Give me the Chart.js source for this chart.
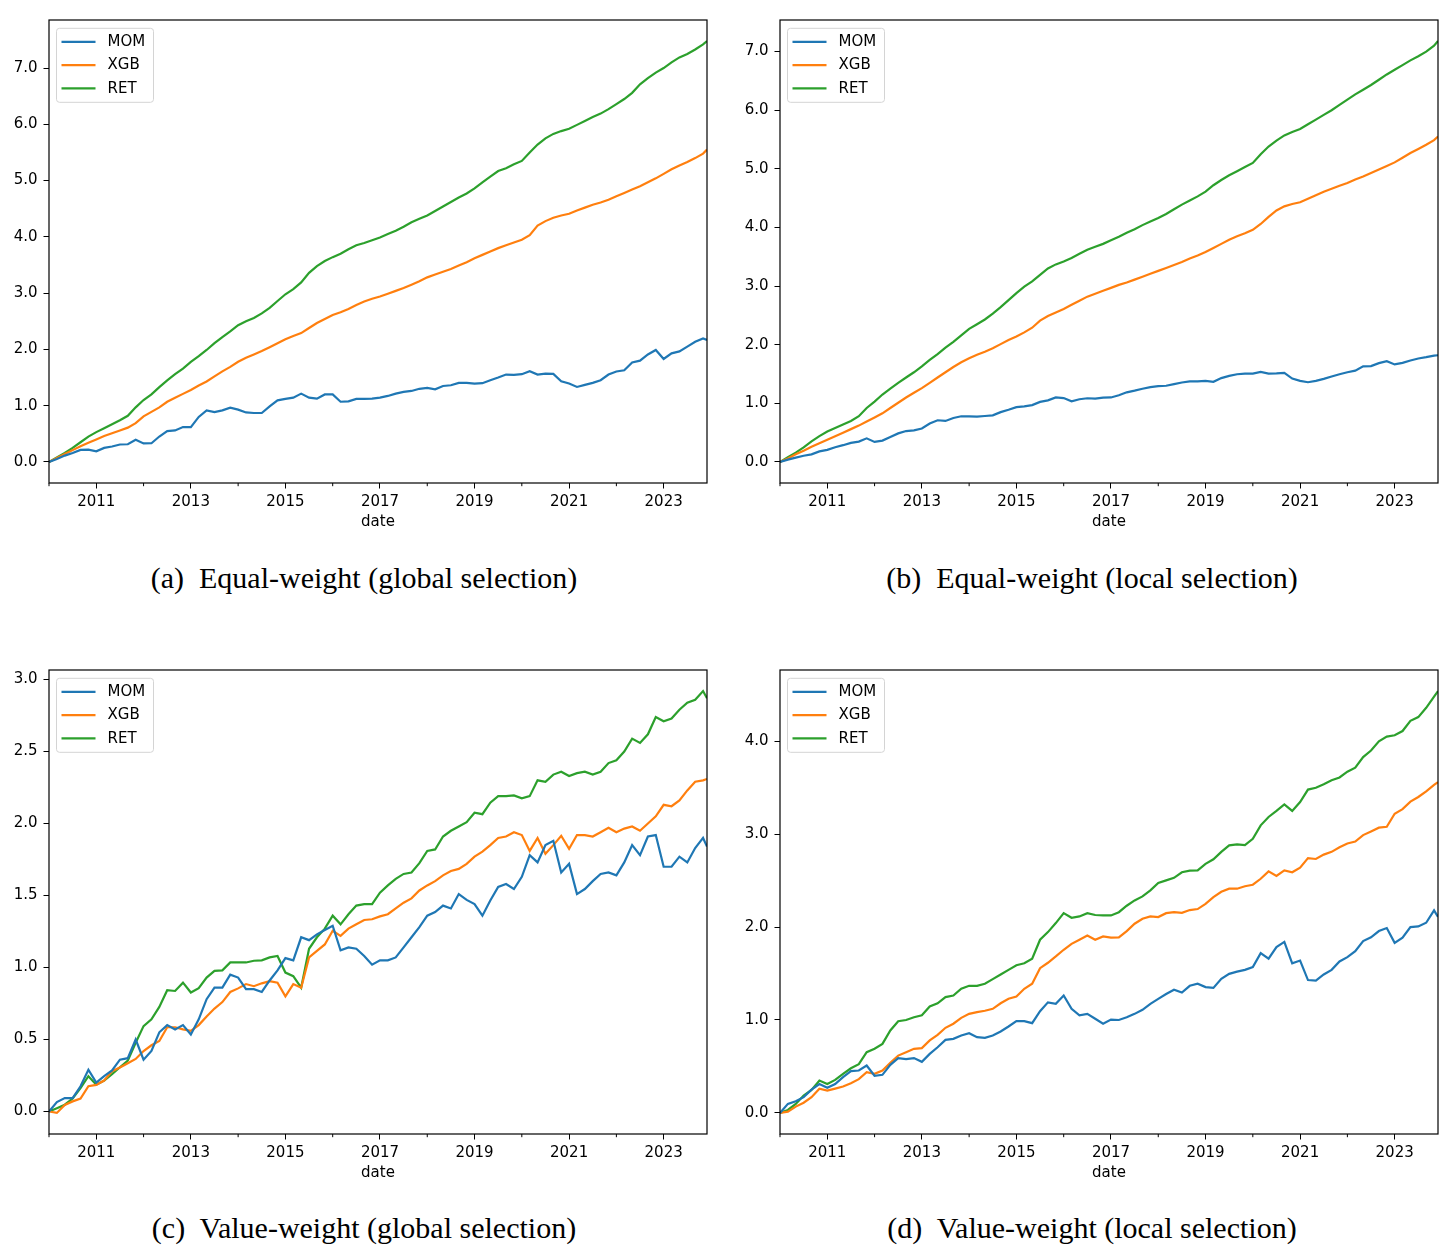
<!DOCTYPE html>
<html>
<head>
<meta charset="utf-8">
<title>Cumulative returns</title>
<script src="https://cdn.jsdelivr.net/npm/chart.js@4.4.1/dist/chart.umd.min.js"></script>
<style>
    body { margin: 0; background: #fff; width: 1456px; height: 1259px; position: relative; overflow: hidden; }
    .panel { position: absolute; width: 728px; height: 540px; }
    .caption { position: absolute; width: 728px; text-align: center; font-family: 'Liberation Serif', serif; font-size: 30px; line-height: 30px; color: #000; white-space: pre; }
</style>
</head>
<body>
<div class="panel" style="left:0;top:0"><canvas id="chartA" width="728" height="540"></canvas></div>
<div class="panel" style="left:728px;top:0"><canvas id="chartB" width="728" height="540"></canvas></div>
<div class="panel" style="left:0;top:650px"><canvas id="chartC" width="728" height="540"></canvas></div>
<div class="panel" style="left:728px;top:650px"><canvas id="chartD" width="728" height="540"></canvas></div>
<div class="caption" id="capA" style="left:0;top:563px"></div>
<div class="caption" id="capB" style="left:728px;top:563px"></div>
<div class="caption" id="capC" style="left:0;top:1213px"></div>
<div class="caption" id="capD" style="left:728px;top:1213px"></div>
<script>
// months sampled every second month, last point is Dec 2023
const months = [
    '2010-01', '2010-03', '2010-05', '2010-07', '2010-09', '2010-11',
    '2011-01', '2011-03', '2011-05', '2011-07', '2011-09', '2011-11',
    '2012-01', '2012-03', '2012-05', '2012-07', '2012-09', '2012-11',
    '2013-01', '2013-03', '2013-05', '2013-07', '2013-09', '2013-11',
    '2014-01', '2014-03', '2014-05', '2014-07', '2014-09', '2014-11',
    '2015-01', '2015-03', '2015-05', '2015-07', '2015-09', '2015-11',
    '2016-01', '2016-03', '2016-05', '2016-07', '2016-09', '2016-11',
    '2017-01', '2017-03', '2017-05', '2017-07', '2017-09', '2017-11',
    '2018-01', '2018-03', '2018-05', '2018-07', '2018-09', '2018-11',
    '2019-01', '2019-03', '2019-05', '2019-07', '2019-09', '2019-11',
    '2020-01', '2020-03', '2020-05', '2020-07', '2020-09', '2020-11',
    '2021-01', '2021-03', '2021-05', '2021-07', '2021-09', '2021-11',
    '2022-01', '2022-03', '2022-05', '2022-07', '2022-09', '2022-11',
    '2023-01', '2023-03', '2023-05', '2023-07', '2023-09', '2023-11',
    '2023-12'
];

const seriesNames = ['MOM', 'XGB', 'RET'];
const seriesColors = ['#1f77b4', '#ff7f0e', '#2ca02c'];

const xMajorYears = [2011, 2013, 2015, 2017, 2019, 2021, 2023];
const xMinorYears = [2010, 2012, 2014, 2016, 2018, 2020, 2022];
const yTicksA = [0, 1, 2, 3, 4, 5, 6, 7];
const yTicksB = [0, 1, 2, 3, 4, 5, 6, 7];
const yTicksC = [0, 0.5, 1, 1.5, 2, 2.5, 3];
const yTicksD = [0, 1, 2, 3, 4];

const captions = [
    '(a)  Equal-weight (global selection)',
    '(b)  Equal-weight (local selection)',
    '(c)  Value-weight (global selection)',
    '(d)  Value-weight (local selection)'
];

// (a) equal-weight, global selection
const momEqGlobal = [
    0, 0.054, 0.113, 0.16, 0.214, 0.22,
    0.19, 0.25, 0.274, 0.31, 0.315, 0.393,
    0.33, 0.333, 0.452, 0.548, 0.56, 0.62,
    0.62, 0.80, 0.917, 0.887, 0.917, 0.964,
    0.93, 0.88, 0.87, 0.87, 0.988, 1.095,
    1.12, 1.143, 1.214, 1.143, 1.125, 1.20,
    1.20, 1.07, 1.077, 1.12, 1.12, 1.125,
    1.143, 1.173, 1.214, 1.244, 1.262, 1.30,
    1.315, 1.29, 1.35, 1.363, 1.405, 1.405,
    1.393, 1.40, 1.452, 1.50, 1.553, 1.548,
    1.56, 1.613, 1.553, 1.57, 1.565, 1.435,
    1.393, 1.333, 1.37, 1.405, 1.452, 1.553,
    1.607, 1.63, 1.768, 1.80, 1.91, 1.99,
    1.83, 1.93, 1.964, 2.05, 2.137, 2.196,
    2.167
];
const xgbEqGlobal = [
    0, 0.07, 0.14, 0.21, 0.28, 0.34,
    0.40, 0.46, 0.51, 0.56, 0.61, 0.69,
    0.81, 0.89, 0.97, 1.07, 1.14, 1.21,
    1.28, 1.36, 1.43, 1.52, 1.61, 1.69,
    1.78, 1.85, 1.91, 1.97, 2.04, 2.11,
    2.18, 2.24, 2.29, 2.38, 2.47, 2.54,
    2.61, 2.66, 2.72, 2.79, 2.85, 2.90,
    2.94, 2.99, 3.04, 3.09, 3.15, 3.21,
    3.28, 3.33, 3.38, 3.43, 3.49, 3.55,
    3.62, 3.68, 3.74, 3.80, 3.85, 3.90,
    3.95, 4.03, 4.20, 4.28, 4.34, 4.38,
    4.41, 4.47, 4.52, 4.57, 4.61, 4.66,
    4.72, 4.78, 4.84, 4.90, 4.97, 5.04,
    5.12, 5.20, 5.27, 5.33, 5.40, 5.48,
    5.55
];
const retEqGlobal = [
    0, 0.08, 0.16, 0.25, 0.35, 0.45,
    0.53, 0.60, 0.67, 0.74, 0.82, 0.97,
    1.10, 1.20, 1.33, 1.45, 1.56, 1.66,
    1.78, 1.88, 1.99, 2.11, 2.22, 2.32,
    2.43, 2.50, 2.56, 2.64, 2.74, 2.86,
    2.98, 3.07, 3.19, 3.36, 3.48, 3.57,
    3.64, 3.70, 3.78, 3.85, 3.89, 3.94,
    3.99, 4.05, 4.11, 4.18, 4.26, 4.32,
    4.38, 4.46, 4.54, 4.62, 4.70, 4.77,
    4.86, 4.97, 5.07, 5.17, 5.22, 5.29,
    5.35, 5.50, 5.64, 5.75, 5.83, 5.88,
    5.92, 5.99, 6.06, 6.13, 6.19, 6.27,
    6.36, 6.45, 6.56, 6.71, 6.82, 6.92,
    7.00, 7.10, 7.19, 7.25, 7.33, 7.42,
    7.48
];

// (b) equal-weight, local selection
const momEqLocal = [
    0, 0.04, 0.073, 0.106, 0.129, 0.18,
    0.207, 0.252, 0.286, 0.325, 0.347, 0.403,
    0.342, 0.364, 0.426, 0.487, 0.527, 0.538,
    0.571, 0.655, 0.711, 0.70, 0.75, 0.779,
    0.779, 0.773, 0.784, 0.795, 0.85, 0.89,
    0.935, 0.947, 0.97, 1.025, 1.05, 1.10,
    1.09, 1.036, 1.07, 1.087, 1.081, 1.098,
    1.10, 1.137, 1.188, 1.216, 1.249, 1.277,
    1.294, 1.30, 1.328, 1.356, 1.373, 1.373,
    1.384, 1.367, 1.43, 1.468, 1.496, 1.507,
    1.507, 1.535, 1.507, 1.51, 1.518, 1.423,
    1.384, 1.36, 1.384, 1.417, 1.457, 1.496,
    1.53, 1.557, 1.63, 1.636, 1.686, 1.72,
    1.664, 1.69, 1.731, 1.765, 1.787, 1.815,
    1.82
];
const xgbEqLocal = [
    0, 0.06, 0.13, 0.19, 0.26, 0.32,
    0.38, 0.44, 0.50, 0.56, 0.62, 0.69,
    0.76, 0.83, 0.92, 1.01, 1.10, 1.18,
    1.26, 1.35, 1.44, 1.53, 1.62, 1.70,
    1.77, 1.83, 1.88, 1.94, 2.01, 2.08,
    2.14, 2.21, 2.29, 2.41, 2.49, 2.55,
    2.61, 2.68, 2.75, 2.82, 2.87, 2.92,
    2.97, 3.02, 3.06, 3.11, 3.16, 3.21,
    3.26, 3.31, 3.36, 3.41, 3.47, 3.52,
    3.58, 3.65, 3.72, 3.79, 3.85, 3.90,
    3.96, 4.06, 4.18, 4.29, 4.36, 4.40,
    4.43, 4.49, 4.55, 4.61, 4.66, 4.71,
    4.76, 4.82, 4.87, 4.93, 4.99, 5.05,
    5.11, 5.19, 5.27, 5.34, 5.41, 5.49,
    5.55
];
const retEqLocal = [
    0, 0.08, 0.16, 0.25, 0.35, 0.44,
    0.52, 0.58, 0.64, 0.70, 0.78, 0.92,
    1.03, 1.15, 1.25, 1.35, 1.44, 1.53,
    1.63, 1.74, 1.84, 1.95, 2.05, 2.16,
    2.27, 2.35, 2.43, 2.53, 2.64, 2.76,
    2.88, 2.99, 3.08, 3.19, 3.30, 3.37,
    3.42, 3.48, 3.55, 3.62, 3.67, 3.72,
    3.78, 3.84, 3.91, 3.97, 4.04, 4.10,
    4.16, 4.23, 4.31, 4.39, 4.46, 4.53,
    4.61, 4.72, 4.81, 4.89, 4.96, 5.03,
    5.10, 5.25, 5.38, 5.48, 5.57, 5.63,
    5.68, 5.76, 5.84, 5.92, 6.00, 6.09,
    6.18, 6.27, 6.35, 6.43, 6.52, 6.61,
    6.69, 6.77, 6.85, 6.92, 7.00, 7.10,
    7.18
];

// (c) value-weight, global selection
const momVwGlobal = [
    0, 0.065, 0.093, 0.093, 0.175, 0.29,
    0.20, 0.245, 0.285, 0.36, 0.37, 0.50,
    0.36, 0.42, 0.55, 0.60, 0.57, 0.60,
    0.535, 0.64, 0.78, 0.86, 0.86, 0.95,
    0.93, 0.85, 0.85, 0.83, 0.91, 0.98,
    1.065, 1.05, 1.21, 1.19, 1.23, 1.26,
    1.29, 1.12, 1.14, 1.13, 1.08, 1.02,
    1.05, 1.05, 1.07, 1.14, 1.21, 1.28,
    1.36, 1.385, 1.43, 1.41, 1.51, 1.47,
    1.44, 1.36, 1.465, 1.56, 1.58, 1.545,
    1.63, 1.78, 1.73, 1.85, 1.88, 1.66,
    1.72, 1.51, 1.545, 1.60, 1.65, 1.66,
    1.64, 1.73, 1.85, 1.78, 1.91, 1.92,
    1.70, 1.70, 1.77, 1.73, 1.83, 1.90,
    1.84
];
const xgbVwGlobal = [
    0, -0.01, 0.045, 0.07, 0.09, 0.175,
    0.185, 0.215, 0.28, 0.305, 0.335, 0.365,
    0.42, 0.46, 0.49, 0.585, 0.585, 0.57,
    0.56, 0.60, 0.66, 0.715, 0.76, 0.83,
    0.855, 0.885, 0.87, 0.89, 0.905, 0.895,
    0.80, 0.885, 0.86, 1.07, 1.115, 1.16,
    1.255, 1.22, 1.27, 1.30, 1.33, 1.335,
    1.355, 1.37, 1.41, 1.45, 1.48, 1.535,
    1.57, 1.60, 1.64, 1.67, 1.685, 1.72,
    1.77, 1.805, 1.85, 1.90, 1.91, 1.94,
    1.92, 1.81, 1.90, 1.79, 1.85, 1.915,
    1.825, 1.92, 1.92, 1.91, 1.94, 1.97,
    1.94, 1.965, 1.98, 1.95, 2.00, 2.05,
    2.13, 2.12, 2.16, 2.23, 2.29, 2.30,
    2.31
];
const retVwGlobal = [
    0, 0.023, 0.047, 0.09, 0.163, 0.245,
    0.186, 0.214, 0.26, 0.307, 0.353, 0.477,
    0.593, 0.64, 0.726, 0.842, 0.837, 0.895,
    0.826, 0.856, 0.93, 0.977, 0.98, 1.035,
    1.035, 1.035, 1.047, 1.05, 1.07, 1.08,
    0.965, 0.94, 0.86, 1.13, 1.21, 1.27,
    1.36, 1.30, 1.37, 1.43, 1.44, 1.44,
    1.52, 1.57, 1.616, 1.65, 1.66, 1.725,
    1.81, 1.82, 1.91, 1.95, 1.98, 2.01,
    2.075, 2.065, 2.145, 2.19, 2.19, 2.195,
    2.175, 2.19, 2.30, 2.29, 2.34, 2.36,
    2.33, 2.35, 2.36, 2.34, 2.36, 2.42,
    2.44, 2.50, 2.59, 2.56, 2.62, 2.74,
    2.71, 2.73, 2.79, 2.84, 2.86, 2.92,
    2.87
];

// (d) value-weight, local selection
const momVwLocal = [
    0, 0.097, 0.126, 0.17, 0.25, 0.31,
    0.27, 0.31, 0.385, 0.45, 0.456, 0.51,
    0.40, 0.41, 0.517, 0.59, 0.58, 0.59,
    0.55, 0.635, 0.707, 0.786, 0.797, 0.833,
    0.858, 0.815, 0.808, 0.833, 0.876, 0.93,
    0.987, 0.987, 0.966, 1.095, 1.19, 1.174,
    1.264, 1.12, 1.05, 1.066, 1.013, 0.96,
    1.005, 1.0, 1.03, 1.066, 1.11, 1.174,
    1.228, 1.28, 1.325, 1.296, 1.368, 1.39,
    1.354, 1.346, 1.443, 1.497, 1.52, 1.54,
    1.57, 1.72, 1.66, 1.785, 1.84, 1.61,
    1.64, 1.43, 1.425, 1.49, 1.54, 1.63,
    1.677, 1.74, 1.85, 1.89, 1.957, 1.99,
    1.83, 1.885, 2.0, 2.007, 2.047, 2.18,
    2.11
];
const xgbVwLocal = [
    0, 0.014, 0.068, 0.11, 0.169, 0.26,
    0.24, 0.262, 0.284, 0.32, 0.363, 0.438,
    0.42, 0.456, 0.54, 0.617, 0.653, 0.69,
    0.697, 0.78, 0.84, 0.916, 0.96, 1.023,
    1.066, 1.084, 1.10, 1.12, 1.18, 1.228,
    1.253, 1.336, 1.39, 1.558, 1.616, 1.684,
    1.756, 1.82, 1.864, 1.91, 1.864, 1.90,
    1.887, 1.89, 1.957, 2.036, 2.09, 2.115,
    2.108, 2.15, 2.16, 2.154, 2.183, 2.194,
    2.25, 2.323, 2.38, 2.413, 2.413, 2.44,
    2.456, 2.52, 2.60, 2.55, 2.61, 2.59,
    2.64, 2.743, 2.733, 2.78, 2.81, 2.86,
    2.90, 2.92, 2.99, 3.03, 3.07, 3.08,
    3.22, 3.27, 3.35, 3.40, 3.46, 3.53,
    3.56
];
const retVwLocal = [
    0, 0.032, 0.097, 0.187, 0.248, 0.348,
    0.312, 0.355, 0.42, 0.48, 0.524, 0.653,
    0.69, 0.743, 0.887, 0.987, 1.0, 1.03,
    1.05, 1.145, 1.18, 1.246, 1.264, 1.336,
    1.368, 1.368, 1.39, 1.44, 1.49, 1.54,
    1.59, 1.61, 1.66, 1.864, 1.946, 2.043,
    2.15, 2.10, 2.115, 2.15, 2.13, 2.125,
    2.125, 2.16, 2.23, 2.287, 2.33, 2.395,
    2.474, 2.503, 2.53, 2.59, 2.607, 2.61,
    2.68, 2.73, 2.81, 2.88, 2.89, 2.883,
    2.95, 3.095, 3.185, 3.25, 3.32, 3.25,
    3.346, 3.48, 3.50, 3.537, 3.58, 3.61,
    3.673, 3.716, 3.83, 3.90, 4.0, 4.05,
    4.065, 4.11, 4.22, 4.26, 4.36, 4.48,
    4.54
];

const toYear = m => Number(m.slice(0, 4)) + (Number(m.slice(5, 7)) - 1) / 12;
const tickFont = { family: 'DejaVu Sans', size: 15 };

// axes frame (all four spines) and the short minor ticks at even years
const frameAndMinorTicks = {
    id: 'frameAndMinorTicks',
    afterDatasetsDraw(chart) {
        const { ctx, chartArea: a, scales } = chart;
        ctx.save();
        ctx.strokeStyle = '#000';
        ctx.lineWidth = 1.2;
        ctx.strokeRect(a.left, a.top, a.right - a.left, a.bottom - a.top);
        ctx.lineWidth = 1;
        xMinorYears.forEach(yr => {
            const px = scales.x.getPixelForValue(yr);
            ctx.beginPath();
            ctx.moveTo(px, a.bottom);
            ctx.lineTo(px, a.bottom + 3.2);
            ctx.stroke();
        });
        ctx.restore();
    }
};

// matplotlib-like legend in the upper-left corner of the plot area
const insideLegend = {
    id: 'insideLegend',
    afterDraw(chart) {
        const { ctx, chartArea } = chart;
        const x = chartArea.left + 7.5, y = chartArea.top + 8.3, w = 97, h = 74;
        ctx.save();
        ctx.beginPath();
        ctx.roundRect(x, y, w, h, 3);
        ctx.fillStyle = 'rgba(255,255,255,0.8)';
        ctx.fill();
        ctx.strokeStyle = '#d4d4d4';
        ctx.lineWidth = 1;
        ctx.stroke();
        ctx.font = '15px "DejaVu Sans"';
        ctx.textBaseline = 'middle';
        chart.data.datasets.forEach((ds, k) => {
            const ly = y + 13.5 + k * 23.3;
            ctx.beginPath();
            ctx.moveTo(x + 5, ly);
            ctx.lineTo(x + 39, ly);
            ctx.strokeStyle = ds.borderColor;
            ctx.lineWidth = 2.2;
            ctx.stroke();
            ctx.fillStyle = '#000';
            ctx.fillText(ds.label, x + 51, ly + 0.5);
        });
        ctx.restore();
    }
};

function makePanel(canvasId, series, yTicks, yAxisWidth, padRight, padBottom) {
    const all = series.flat();
    const lo = Math.min(...all);
    const hi = Math.max(...all);
    const margin = (hi - lo) * 0.05;
    return new Chart(document.getElementById(canvasId), {
        type: 'line',
        data: {
            datasets: series.map((vals, k) => ({
                label: seriesNames[k],
                data: months.map((m, i) => ({ x: toYear(m), y: vals[i] })),
                borderColor: seriesColors[k],
                borderWidth: 2.2,
                pointRadius: 0,
                tension: 0,
                fill: false
            }))
        },
        options: {
            responsive: false,
            animation: false,
            events: [],
            layout: { padding: { left: 0, top: 20, right: padRight, bottom: padBottom } },
            plugins: { legend: { display: false }, tooltip: { enabled: false } },
            scales: {
                x: {
                    type: 'linear',
                    min: toYear(months[0]),
                    max: toYear(months[months.length - 1]),
                    afterBuildTicks: s => { s.ticks = xMajorYears.map(v => ({ value: v })); },
                    afterFit: s => { s.height = 48; },
                    border: { display: false },
                    grid: { drawOnChartArea: false, drawTicks: true, tickLength: 5.5, tickWidth: 1, tickColor: '#000' },
                    ticks: { autoSkip: false, maxRotation: 0, padding: 5, color: '#000', font: tickFont, callback: v => String(v) },
                    title: { display: true, text: 'date', color: '#000', font: tickFont, padding: 0 }
                },
                y: {
                    min: lo - margin,
                    max: hi + margin,
                    afterBuildTicks: s => { s.ticks = yTicks.map(v => ({ value: v })); },
                    afterFit: s => { s.width = yAxisWidth; },
                    border: { display: false },
                    grid: { drawOnChartArea: false, drawTicks: true, tickLength: 5.5, tickWidth: 1, tickColor: '#000' },
                    ticks: { autoSkip: false, padding: 6, color: '#000', font: tickFont, callback: v => Number(v).toFixed(1) }
                }
            }
        },
        plugins: [frameAndMinorTicks, insideLegend]
    });
}

makePanel('chartA', [momEqGlobal, xgbEqGlobal, retEqGlobal], yTicksA, 49, 21, 9);
makePanel('chartB', [momEqLocal, xgbEqLocal, retEqLocal], yTicksB, 52, 18, 9);
makePanel('chartC', [momVwGlobal, xgbVwGlobal, retVwGlobal], yTicksC, 49, 21, 8);
makePanel('chartD', [momVwLocal, xgbVwLocal, retVwLocal], yTicksD, 52, 18, 8);

['capA', 'capB', 'capC', 'capD'].forEach((id, k) => {
    document.getElementById(id).textContent = captions[k];
});
</script>
</body>
</html>
